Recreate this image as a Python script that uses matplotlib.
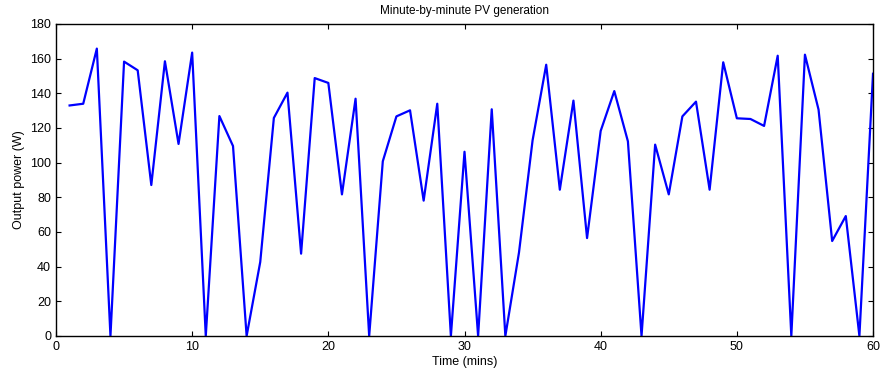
import numpy as np
import matplotlib
matplotlib.use("Agg")
import matplotlib.pyplot as plt

plt.rcParams['font.family'] = ['Liberation Sans', 'DejaVu Sans']

minutes = np.arange(1, 61)
power = [133, 134, 165.8, 0, 158.3, 153.3, 87.1, 158.5, 110.8, 163.5,
         0, 126.9, 109.6, 0, 42.7, 125.8, 140.4, 47.5, 148.8, 146,
         81.7, 136.9, 0, 100.8, 126.7, 130.2, 78.1, 134, 0, 106.3,
         0, 130.8, 0, 48.1, 112.9, 156.5, 84.4, 135.8, 56.5, 118.3,
         141.3, 112.3, 0, 110.4, 81.7, 126.7, 135.2, 84.4, 157.9, 125.6,
         125.2, 121.2, 161.7, 0, 162.3, 130.6, 54.8, 69.2, 0, 151.3]

fig = plt.figure(figsize=(8.83, 3.75), dpi=100)
ax = fig.add_axes([0.0634, 0.104, 0.9253, 0.832])
ax.plot(minutes, power, color='#0000ff', lw=1.6)

ax.set_xlim(0, 60)
ax.set_ylim(0, 180)
ax.set_xticks(np.arange(0, 61, 10))
ax.set_yticks(np.arange(0, 181, 20))
ax.tick_params(direction='in', top=True, right=True, labelsize=9, length=3.5, width=0.8)
for s in ax.spines.values():
    s.set_linewidth(1.0)

ax.set_title('Minute-by-minute PV generation', fontsize=8.5, pad=7)
ax.set_xlabel('Time (mins)', fontsize=9, labelpad=2)
ax.set_ylabel('Output power (W)', fontsize=9, labelpad=4)

fig.savefig('out.png', dpi=100)
